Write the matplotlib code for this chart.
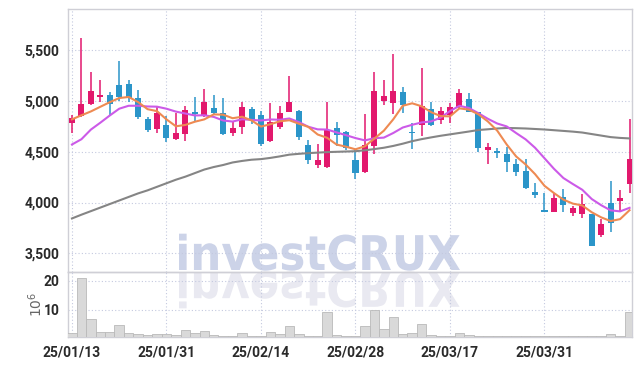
import numpy as np, pandas as pd
import matplotlib; matplotlib.use("Agg"); import matplotlib.pyplot as plt
from matplotlib.textpath import TextPath
from matplotlib.patches import PathPatch
from matplotlib.font_manager import FontProperties
from matplotlib.transforms import Affine2D
from matplotlib.ticker import FuncFormatter

plt.rcParams["font.family"] = ["Roboto", "Liberation Sans", "DejaVu Sans"]

# KRX trading days, Lunar New Year + Mar 3 closed
dates = pd.bdate_range("2025-01-13", "2025-04-11", freq="C",
                       holidays=["2025-01-27", "2025-01-28", "2025-01-29", "2025-01-30", "2025-03-03"])

opens  = [4780, 4850, 4975, 5045, 5060, 5160, 5170, 5030, 4825, 4722,
          4760, 4630, 4680, 4895, 4850, 4933, 4880, 4685, 4740, 4922,
          4866, 4604, 4741, 4890, 4905, 4572, 4368, 4350, 4736, 4692,
          4415, 4297, 4555, 5005, 4986, 5088, 4700, 4761, 4921, 4812,
          4866, 4944, 5023, 4892, 4516, 4510, 4474, 4376, 4307, 4108,
          3925, 3908, 4059, 3898, 3889, 3886, 3683, 3997, 4016, 4187]
highs  = [4865, 5620, 5285, 5205, 5090, 5400, 5205, 5110, 4840, 4950,
          4855, 4880, 4947, 5040, 5118, 5060, 5030, 4800, 4990, 4942,
          4900, 4978, 4947, 5245, 4910, 4620, 4577, 4988, 4794, 4710,
          4523, 4870, 5285, 5209, 5461, 5143, 4780, 5323, 4996, 4944,
          4980, 5118, 5078, 4892, 4588, 4539, 4550, 4425, 4425, 4196,
          4098, 4095, 4137, 3967, 4082, 3890, 3837, 4212, 4124, 4824]
lows   = [4685, 4845, 4965, 4995, 4855, 5000, 4990, 4825, 4700, 4686,
          4600, 4620, 4608, 4805, 4842, 4865, 4665, 4655, 4680, 4775,
          4555, 4600, 4725, 4888, 4612, 4383, 4343, 4345, 4560, 4518,
          4232, 4295, 4478, 4958, 4872, 4882, 4530, 4660, 4758, 4776,
          4787, 4935, 4888, 4497, 4376, 4441, 4300, 4261, 4130, 4040,
          3908, 3905, 3908, 3863, 3843, 3572, 3657, 3712, 3918, 4092]
closes = [4835, 4975, 5100, 5060, 4975, 5040, 5030, 4845, 4712, 4878,
          4633, 4690, 4912, 4870, 4993, 4880, 4675, 4738, 4943, 4812,
          4575, 4792, 4882, 4995, 4643, 4418, 4415, 4719, 4663, 4537,
          4290, 4563, 5100, 5050, 5100, 4957, 4684, 4954, 4761, 4905,
          4944, 5078, 4890, 4535, 4552, 4487, 4398, 4300, 4141, 4075,
          3910, 4040, 3977, 3944, 3984, 3575, 3788, 3794, 4040, 4425]
volume = [2.0, 20.9, 6.8, 2.3, 2.3, 4.7, 2.0, 1.6, 1.3, 1.7,
          1.7, 1.4, 3.0, 2.0, 2.6, 1.2, 1.1, 1.1, 2.0, 1.1,
          1.1, 2.5, 1.7, 4.5, 1.7, 1.1, 1.0, 9.4, 1.3, 1.0,
          0.9, 4.5, 10.0, 3.3, 7.5, 1.7, 2.1, 5.1, 1.3, 1.1,
          1.0, 1.9, 1.2, 1.1, 1.0, 1.0, 1.0, 1.0, 0.9, 0.9,
          0.9, 0.8, 0.8, 0.8, 0.9, 1.0, 1.0, 1.7, 1.0, 9.2]
# warm-up part of the moving averages (needs data before the window)
ma5_head = [4820, 4860, 4898, 4944]
ma10_head = [4572, 4624, 4719, 4787, 4858, 4925, 4954, 4954, 4947]
ma60 = [3843, 3880, 3915, 3950, 3985, 4020, 4055, 4090, 4120, 4155,
        4190, 4225, 4255, 4290, 4325, 4350, 4370, 4395, 4410, 4422,
        4428, 4440, 4455, 4472, 4480, 4487, 4492, 4497, 4500, 4503,
        4506, 4515, 4527, 4540, 4558, 4580, 4605, 4625, 4642, 4658,
        4672, 4686, 4700, 4715, 4722, 4730, 4735, 4733, 4730, 4725,
        4720, 4713, 4706, 4699, 4690, 4675, 4660, 4645, 4637, 4632]

UP, DN = "#e2186d", "#2b95c9"
cl = pd.Series(closes, dtype=float)
ma5 = cl.rolling(5).mean().to_numpy(); ma5[:4] = ma5_head
ma10 = cl.rolling(10).mean().to_numpy(); ma10[:9] = ma10_head
x = np.arange(len(dates))

fig = plt.figure(figsize=(6.42, 3.66), dpi=100, facecolor="white")
L, W = 68/642, 564/642
ax = fig.add_axes([L, 94/366, W, 263/366], facecolor="none")
av = fig.add_axes([L, 29/366, W, 65/366], facecolor="none", sharex=ax)

# watermark with reflection
fp = FontProperties(family="DejaVu Sans", weight="bold")
tp = TextPath((0, 0), "investCRUX", size=100, prop=fp)
ext = tp.get_extents()
sx = (460-179)/ext.width; sy = 37/ext.height
base = 366-270
top = Affine2D().translate(-ext.x0, 0).scale(sx, sy).translate(179, base)
fig.add_artist(PathPatch(tp, transform=top, fc="#ccd3e8", ec="none", zorder=-5))
refl = Affine2D().translate(-ext.x0, 0).scale(sx, -sy).translate(179, base-2)
fig.add_artist(PathPatch(tp, transform=refl, fc="#e9e9f1", ec="none", zorder=-5))

for i in x:
    o, h, l, c = opens[i], highs[i], lows[i], closes[i]
    col = UP if c >= o else DN
    ax.vlines(i, l, h, color=col, lw=1.1, zorder=3)
    ax.bar(i, max(abs(c-o), 15), bottom=min(o, c), width=0.64, color=col, zorder=4)
ax.plot(x, ma60, color="#858585", lw=1.5, zorder=5)
ax.plot(x, ma10, color="#cc5ae8", lw=1.5, zorder=5)
ax.plot(x, ma5, color="#ee8a52", lw=1.5, zorder=5)

av.bar(x, volume, width=1.0, color="#d9d9d9", edgecolor="#b9b9b9", lw=0.6, zorder=3)

ax.set_xlim(-0.42, 59.26)
ax.set_ylim(3315, 5908)
av.set_ylim(0.6, 23.1)
ax.set_yticks([3500, 4000, 4500, 5000, 5500])
ax.yaxis.set_major_formatter(FuncFormatter(lambda v, p: f"{v:,.0f}"))
av.set_yticks([10, 20])
ticks = x[::10]
av.set_xticks(ticks)
av.set_xticklabels([d.strftime("%y/%m/%d") for d in dates[::10]])
ax.tick_params(axis="x", labelbottom=False)
for a in (ax, av):
    a.grid(color="#c4c9df", ls=(0, (1, 2)), lw=0.8)
    a.set_axisbelow(True)
    a.tick_params(length=0, labelsize=10, labelcolor="#2a2a2a", pad=6)
    for t in a.get_xticklabels() + a.get_yticklabels():
        t.set_fontweight("bold")
    for s in a.spines.values():
        s.set_color("#cfcfd6"); s.set_linewidth(1)
av.set_ylabel(r"$10^6$", color="#666666", fontsize=10)
av.yaxis.set_label_coords(-0.04, 0.5)

fig.savefig("out.png", dpi=100, facecolor="white")
